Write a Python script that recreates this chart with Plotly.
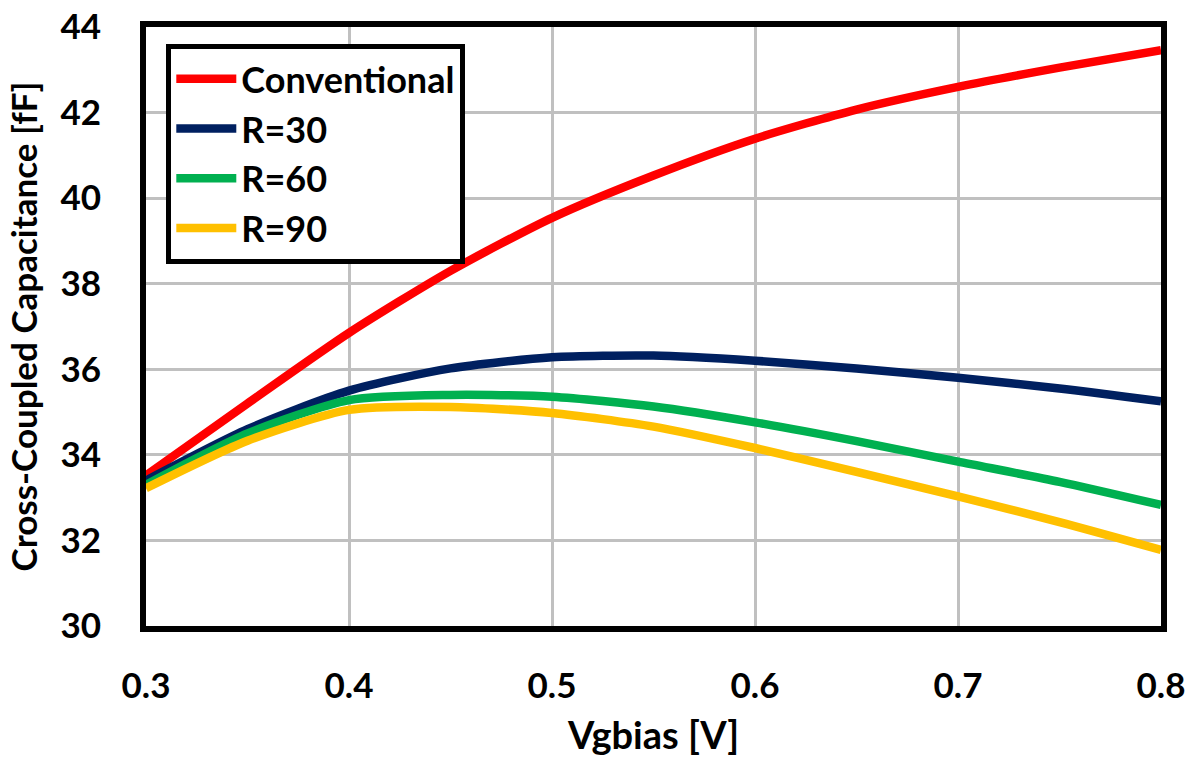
import plotly.graph_objects as go

vg = [0.30, 0.35, 0.40, 0.45, 0.50, 0.55, 0.60, 0.65, 0.70, 0.75, 0.80]
conventional = [33.52, 35.2, 36.85, 38.3, 39.54, 40.53, 41.39, 42.07, 42.6, 43.05, 43.46]
r30 = [33.4, 34.6, 35.5, 36.02, 36.28, 36.32, 36.2, 36.02, 35.8, 35.55, 35.25]
r60 = [33.3, 34.5, 35.28, 35.4, 35.36, 35.13, 34.76, 34.32, 33.84, 33.37, 32.83]
r90 = [33.22, 34.33, 35.05, 35.12, 34.98, 34.66, 34.16, 33.6, 33.03, 32.43, 31.78]

series = [
    ("Conventional", conventional, "#ff0000"),
    ("R=30", r30, "#002060"),
    ("R=60", r60, "#00b050"),
    ("R=90", r90, "#ffc000"),
]

x_ticks = [0.3, 0.4, 0.5, 0.6, 0.7, 0.8]
y_ticks = [30, 32, 34, 36, 38, 40, 42, 44]

FONT = "Lato"

fig = go.Figure()
for name, vals, color in series:
    fig.add_trace(go.Scatter(
        x=vg, y=vals, name=name, mode="lines",
        line=dict(color=color, width=8.5, shape="spline", smoothing=0.7),
    ))

fig.update_layout(
    width=1192, height=757,
    margin=dict(l=146, r=31, t=27, b=131, autoexpand=False),
    paper_bgcolor="white", plot_bgcolor="white",
    font=dict(family=FONT, size=35, color="black", weight="bold"),
    showlegend=True,
    legend=dict(
        x=0.02, y=0.972, xanchor="left", yanchor="top",
        bgcolor="white", bordercolor="black", borderwidth=5,
        font=dict(family=FONT, size=36, color="black", weight="bold"),
        itemwidth=60, tracegroupgap=0,
        entrywidth=250, entrywidthmode="pixels",
    ),
    xaxis=dict(
        range=[0.3, 0.8], tickvals=x_ticks, ticktext=[f"{v:.1f}" for v in x_ticks],
        showgrid=True, gridcolor="#c0c0c0", gridwidth=3,
        showline=True, linecolor="black", linewidth=6, mirror=True,
        ticks="", ticklabelstandoff=24, zeroline=False, automargin=False,
        tickfont=dict(family=FONT, size=35, weight="bold"),
        title=dict(text="Vgbias [V]", font=dict(family=FONT, size=38, weight="bold"), standoff=26),
    ),
    yaxis=dict(
        range=[30, 44], tickvals=y_ticks,
        showgrid=True, gridcolor="#c0c0c0", gridwidth=3,
        showline=True, linecolor="black", linewidth=6, mirror=True,
        ticks="", ticklabelstandoff=32, zeroline=False, automargin=False,
        tickfont=dict(family=FONT, size=35, weight="bold"),
        title=dict(text="Cross-Coupled Capacitance [fF]", font=dict(family=FONT, size=35, weight="bold"), standoff=14),
    ),
)

fig.write_html("out.html")
